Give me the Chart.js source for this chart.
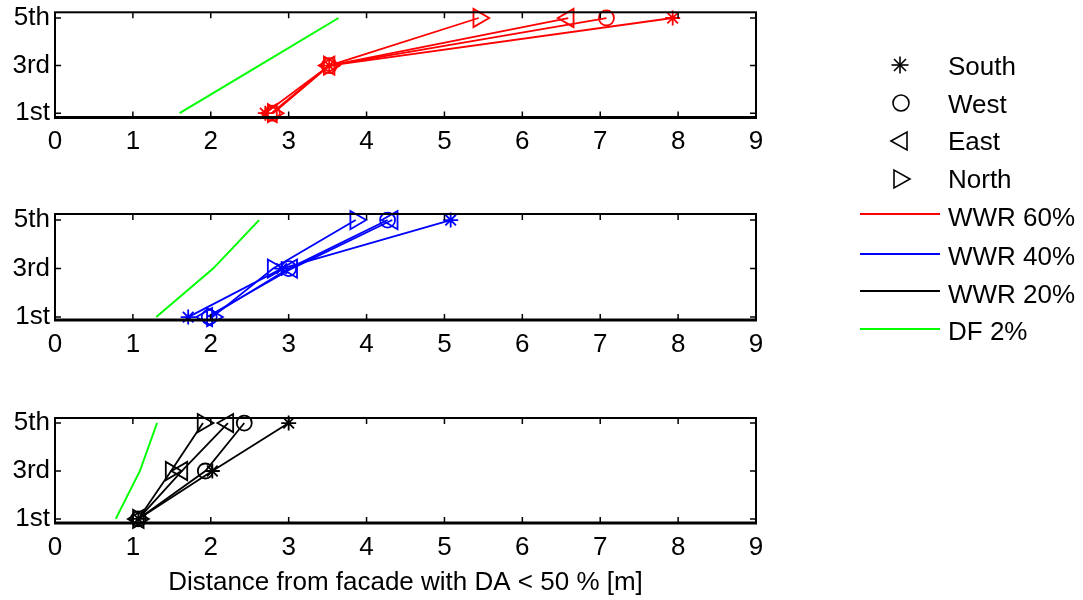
<!DOCTYPE html>
<html><head><meta charset="utf-8">
<script src="https://cdn.jsdelivr.net/npm/chart.js@4.4.1/dist/chart.umd.min.js"></script>
<style>
html,body{margin:0;padding:0;background:#fff;width:1083px;height:600px;overflow:hidden;}
canvas{position:absolute;left:0;}
.lg{position:absolute;left:948px;height:30px;line-height:30px;font-family:"Liberation Sans",Arial,sans-serif;font-size:26px;color:#000;white-space:nowrap;}
#lgsvg{position:absolute;left:0;top:0;}
</style></head><body>
<canvas id="p1" width="800" height="160" style="top:0px"></canvas>
<canvas id="p2" width="800" height="160" style="top:200px"></canvas>
<canvas id="p3" width="800" height="200" style="top:400px"></canvas>
<svg id="lgsvg" width="1083" height="600">
  <g stroke="#000" stroke-width="1.6" fill="none">
    <line x1="891.5" y1="65" x2="908.5" y2="65"/><line x1="900" y1="56.5" x2="900" y2="73.5"/>
    <line x1="894" y1="59" x2="906" y2="71"/><line x1="894" y1="71" x2="906" y2="59"/>
    <circle cx="901" cy="103" r="8"/>
    <polygon points="891,141 907,132 907,150"/>
    <polygon points="894,170 894,188 910,179"/>
  </g>
  <line x1="860" y1="214" x2="940" y2="214" stroke="#ff0000" stroke-width="2"/>
  <line x1="860" y1="254" x2="940" y2="254" stroke="#0000ff" stroke-width="2"/>
  <line x1="860" y1="291" x2="940" y2="291" stroke="#000000" stroke-width="2"/>
  <line x1="860" y1="329" x2="940" y2="329" stroke="#00ff00" stroke-width="2"/>
</svg>
<div class="lg" style="top:51px">South</div>
<div class="lg" style="top:89px">West</div>
<div class="lg" style="top:126px">East</div>
<div class="lg" style="top:164px">North</div>
<div class="lg" style="top:202px">WWR 60%</div>
<div class="lg" style="top:241px">WWR 40%</div>
<div class="lg" style="top:279px">WWR 20%</div>
<div class="lg" style="top:316px">DF 2%</div>
<script>
// ---- data ----
const floors = [1, 3, 5];
const floorLabels = ['1st', '3rd', '5th'];
const orientations = ['South', 'West', 'East', 'North'];

// WWR 60 %
const south60 = [2.70, 3.52, 7.93];
const west60  = [2.79, 3.52, 7.08];
const east60  = [2.78, 3.52, 6.59];
const north60 = [2.80, 3.52, 5.44];
const df60    = [1.60, 2.62, 3.64];
// WWR 40 %
const south40 = [1.71, 2.91, 5.08];
const west40  = [1.98, 3.00, 4.27];
const east40  = [1.95, 3.04, 4.33];
const north40 = [2.02, 2.80, 3.86];
const df40    = [1.30, 2.03, 2.62];
// WWR 20 %
const south20 = [1.07, 2.02, 3.00];
const west20  = [1.07, 1.93, 2.43];
const east20  = [1.07, 1.63, 2.22];
const north20 = [1.07, 1.49, 1.90];
const df20    = [0.78, 1.09, 1.31];

// ---- styles ----
const FONT = {family: '"Liberation Sans", Arial, sans-serif', size: 26};
const mStyle = {South: 'star', West: 'circle', East: 'triangle', North: 'triangle'};
const mRot = {South: 0, West: 0, East: -90, North: 90};
const mRad = {South: 7.5, West: 7.5, East: 10.5, North: 10.5};

function pts(vals) { return floors.map((f, i) => ({x: vals[i], y: f})); }

function orientDs(name, vals, color) {
  return {
    label: name, data: pts(vals), showLine: true,
    borderColor: color, backgroundColor: 'rgba(0,0,0,0)', borderWidth: 1.8,
    pointStyle: mStyle[name], pointRotation: mRot[name], pointRadius: mRad[name],
    pointBorderColor: color, pointBackgroundColor: 'rgba(0,0,0,0)', pointBorderWidth: 1.8,
    clip: false, tension: 0
  };
}
function dfDs(vals) {
  return {label: 'DF 2%', data: pts(vals), showLine: true, borderColor: '#00ff00',
    borderWidth: 2, pointRadius: 0, clip: false, tension: 0};
}

const boxPlugin = {
  id: 'boxTicks',
  afterDraw(chart) {
    const {ctx, chartArea: a, scales: {x, y}} = chart;
    ctx.save();
    ctx.strokeStyle = '#000';
    ctx.lineWidth = 1.5;
    ctx.beginPath();
    x.ticks.forEach(t => {
      const px = x.getPixelForValue(t.value);
      ctx.moveTo(px, a.bottom); ctx.lineTo(px, a.bottom - 6);
      ctx.moveTo(px, a.top); ctx.lineTo(px, a.top + 6);
    });
    y.ticks.forEach(t => {
      const py = y.getPixelForValue(t.value);
      ctx.moveTo(a.left, py); ctx.lineTo(a.left + 6, py);
      ctx.moveTo(a.right, py); ctx.lineTo(a.right - 6, py);
    });
    ctx.stroke();
    ctx.lineWidth = 2;
    ctx.strokeRect(a.left, a.top, a.right - a.left, a.bottom - a.top);
    ctx.lineWidth = 3;
    ctx.beginPath(); ctx.moveTo(a.left - 1, a.bottom); ctx.lineTo(a.right + 1, a.bottom); ctx.stroke();
    ctx.restore();
  }
};

function makePanel(id, sets, color, df, ymin, ymax, padTop, xHeight, withTitle) {
  const datasets = orientations.map((o, i) => orientDs(o, sets[i], color));
  datasets.unshift(dfDs(df));
  new Chart(document.getElementById(id), {
    type: 'scatter',
    data: {datasets},
    options: {
      responsive: false, animation: false, events: [],
      layout: {padding: {top: padTop, right: 44, left: 0, bottom: 0}},
      plugins: {legend: {display: false}, tooltip: {enabled: false}},
      scales: {
        x: {
          type: 'linear', min: 0, max: 9,
          grid: {display: false, drawTicks: false}, border: {display: false},
          ticks: {stepSize: 1, color: '#000', font: FONT, padding: 9, maxRotation: 0, autoSkip: false},
          title: {display: withTitle, text: 'Distance from facade with DA < 50 % [m]', color: '#000', font: FONT, padding: {top: 0, bottom: 2}},
          afterFit(s) { s.height = xHeight; s.paddingLeft = 0; s.paddingRight = 0; }
        },
        y: {
          type: 'linear', min: ymin, max: ymax,
          grid: {display: false, drawTicks: false}, border: {display: false},
          afterBuildTicks(s) { s.ticks = floors.map(v => ({value: v})); },
          ticks: {color: '#000', font: FONT, padding: 5, autoSkip: false,
            callback: v => floorLabels[floors.indexOf(v)]},
          afterFit(s) { s.width = 55; s.paddingTop = 0; s.paddingBottom = 0; }
        }
      }
    },
    plugins: [boxPlugin]
  });
}

makePanel('p1', [south60, west60, east60, north60], '#ff0000', df60, 0.82, 5.24, 9, 42.5, false);
makePanel('p2', [south40, west40, east40, north40], '#0000ff', df40, 0.88, 5.25, 14, 40, false);
makePanel('p3', [south20, west20, east20, north20], '#000000', df20, 0.83, 5.21, 18, 77, true);
</script>
</body></html>
